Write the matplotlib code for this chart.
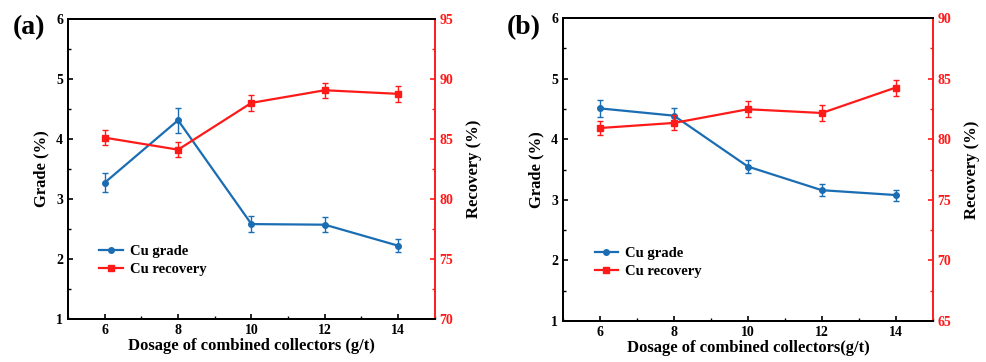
import numpy as np
import matplotlib.pyplot as plt
from matplotlib.ticker import MultipleLocator
from matplotlib.lines import Line2D

plt.rcParams['font.family'] = ['Liberation Serif', 'DejaVu Serif']
plt.rcParams['font.weight'] = 'bold'

dosage = [6, 8, 10, 12, 14]

# panel (a)
grade_a = [3.27, 4.31, 2.58, 2.57, 2.22]
grade_a_err = [0.16, 0.21, 0.13, 0.13, 0.11]
rec_a = [85.1, 84.1, 88.0, 89.05, 88.75]
rec_a_err = [0.64, 0.64, 0.64, 0.64, 0.64]

# panel (b)
grade_b = [4.51, 4.39, 3.55, 3.16, 3.08]
grade_b_err = [0.14, 0.13, 0.11, 0.10, 0.09]
rec_b = [80.93, 81.35, 82.48, 82.17, 84.27]
rec_b_err = [0.6, 0.62, 0.68, 0.63, 0.66]

blue = '#1a6db3'
red = '#ff1a1a'


def draw_panel(ax, grade, grade_err, rec, rec_err, rec_lim, xlabel):
    ax2 = ax.twinx()
    ax.errorbar(dosage, grade, yerr=grade_err, color=blue, marker='o', ms=4,
                lw=1.6, capsize=2.5, elinewidth=1, capthick=1)
    ax2.errorbar(dosage, rec, yerr=rec_err, color=red, marker='s', ms=4,
                 lw=1.6, capsize=2.5, elinewidth=1, capthick=1)
    ax.set_xlim(5, 15)
    ax.set_ylim(1, 6)
    ax2.set_ylim(*rec_lim)
    ax.xaxis.set_major_locator(MultipleLocator(2))
    ax.xaxis.set_minor_locator(MultipleLocator(1))
    ax.yaxis.set_major_locator(MultipleLocator(1))
    ax.yaxis.set_minor_locator(MultipleLocator(0.5))
    ax2.yaxis.set_major_locator(MultipleLocator(5))
    ax2.yaxis.set_minor_locator(MultipleLocator(2.5))

    ax.tick_params(axis='both', which='major', direction='in', length=3.5, width=1.2,
                   labelsize=10)
    ax.tick_params(axis='both', which='minor', direction='in', length=2, width=1)
    ax.tick_params(axis='y', right=False)
    ax2.tick_params(axis='y', which='major', direction='in', length=3.5, width=1.2,
                    colors=red, labelsize=10)
    ax2.tick_params(axis='y', which='minor', direction='in', length=2, width=1, colors=red)

    for s in ['left', 'bottom', 'top']:
        ax.spines[s].set_linewidth(1.4)
        ax2.spines[s].set_linewidth(1.4)
    ax2.spines['right'].set_color(red)
    ax2.spines['right'].set_linewidth(1.4)
    ax.spines['right'].set_visible(False)

    ax.set_xlabel(xlabel, fontsize=12, fontweight='bold', labelpad=1)
    ax.set_ylabel('Grade (%)', fontsize=12, fontweight='bold', labelpad=5)
    ax2.set_ylabel('Recovery (%)', fontsize=12, fontweight='bold', labelpad=9)

    handles = [Line2D([], [], color=blue, marker='o', ms=4, lw=1.6),
               Line2D([], [], color=red, marker='s', ms=4, lw=1.6)]
    ax.legend(handles, ['Cu grade', 'Cu recovery'], loc='lower left',
              bbox_to_anchor=(0.05, 0.1), frameon=False,
              handlelength=1.6, handletextpad=0.5, labelspacing=0.3,
              prop={'weight': 'bold', 'size': 10.5})


fig = plt.figure(figsize=(9.86, 3.62), dpi=100)
ax_a = fig.add_axes([0.069, 0.119, 0.372, 0.829])
ax_b = fig.add_axes([0.571, 0.113, 0.375, 0.837])

draw_panel(ax_a, grade_a, grade_a_err, rec_a, rec_a_err, (70, 95),
           'Dosage of combined collectors (g/t)')
draw_panel(ax_b, grade_b, grade_b_err, rec_b, rec_b_err, (65, 90),
           'Dosage of combined collectors(g/t)')

fig.text(0.013, 0.925, '(a)', fontsize=20, fontweight='bold', va='center')
fig.text(0.514, 0.925, '(b)', fontsize=20, fontweight='bold', va='center')

fig.savefig('out.png', dpi=100)
